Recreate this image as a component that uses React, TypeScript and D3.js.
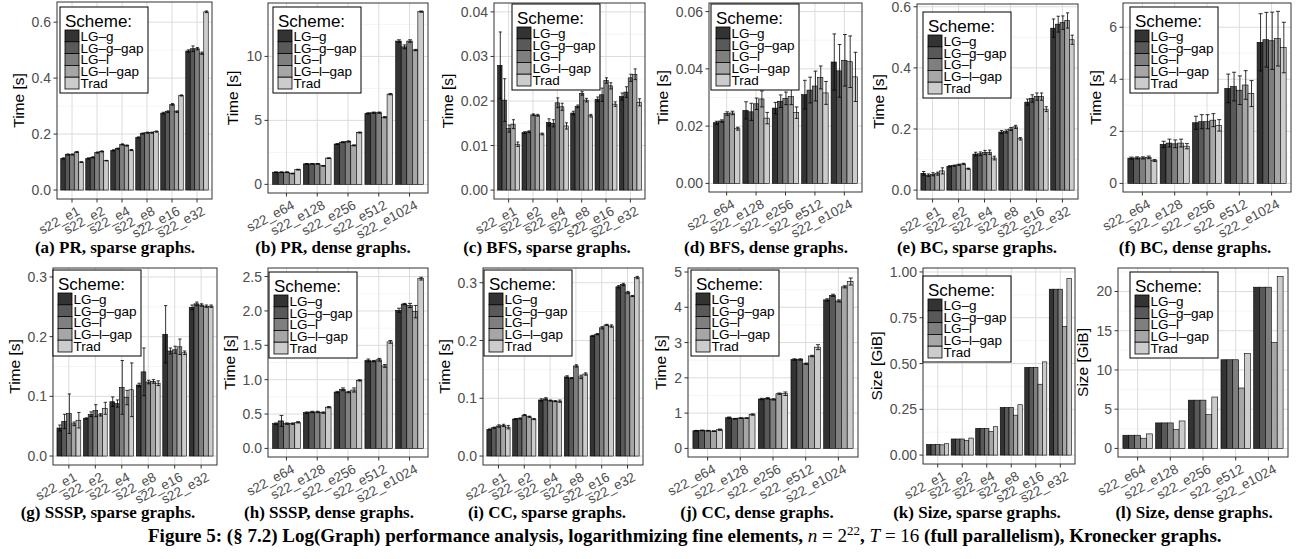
import React from "react";
import * as d3 from "d3";

const schemes = ["LG–g", "LG–g–gap", "LG–l", "LG–l–gap", "Trad"];
const schemeFill = ["#333333", "#595959", "#7f7f7f", "#a6a6a6", "#cccccc"];

const sparseGraphs = ["s22_e1", "s22_e2", "s22_e4", "s22_e8", "s22_e16", "s22_e32"];
const denseGraphs = ["s22_e64", "s22_e128", "s22_e256", "s22_e512", "s22_e1024"];

// rows = graphs, columns = schemes
const prSparse = [
  [0.113, 0.127, 0.127, 0.136, 0.1],
  [0.113, 0.117, 0.134, 0.138, 0.105],
  [0.142, 0.148, 0.163, 0.159, 0.143],
  [0.188, 0.202, 0.205, 0.205, 0.209],
  [0.275, 0.28, 0.306, 0.28, 0.338],
  [0.497, 0.505, 0.505, 0.489, 0.637],
];
const prSparseErr = [
  [0.002, 0.002, 0.002, 0.002, 0.001],
  [0.002, 0.002, 0.002, 0.002, 0.001],
  [0.002, 0.002, 0.002, 0.002, 0.002],
  [0.002, 0.002, 0.002, 0.002, 0.002],
  [0.003, 0.003, 0.003, 0.003, 0.002],
  [0.004, 0.01, 0.004, 0.004, 0.003],
];
const prDense = [
  [0.95, 0.95, 0.95, 0.85, 1.15],
  [1.6, 1.6, 1.6, 1.45, 2.05],
  [3.15, 3.3, 3.35, 3.05, 4.05],
  [5.55, 5.6, 5.6, 5.25, 7.05],
  [11.2, 10.75, 11.2, 10.5, 13.5],
];
const prDenseErr = [
  [0.03, 0.03, 0.03, 0.03, 0.03],
  [0.03, 0.03, 0.03, 0.03, 0.03],
  [0.04, 0.04, 0.05, 0.04, 0.04],
  [0.05, 0.05, 0.05, 0.05, 0.05],
  [0.1, 0.15, 0.1, 0.05, 0.05],
];
const bfsSparse = [
  [0.028, 0.0202, 0.0138, 0.0148, 0.0103],
  [0.0129, 0.0131, 0.0169, 0.0168, 0.0126],
  [0.0152, 0.015, 0.0196, 0.0187, 0.0144],
  [0.0173, 0.0188, 0.0217, 0.0202, 0.0167],
  [0.0204, 0.0214, 0.0246, 0.0234, 0.0193],
  [0.021, 0.022, 0.0252, 0.026, 0.0197],
];
const bfsSparseErr = [
  [0.0075, 0.0048, 0.0008, 0.001, 0.0005],
  [0.0002, 0.0002, 0.0002, 0.0002, 0.0002],
  [0.0008, 0.0008, 0.0011, 0.0008, 0.0007],
  [0.0004, 0.0003, 0.0004, 0.0004, 0.0003],
  [0.0005, 0.0015, 0.0006, 0.0007, 0.0005],
  [0.0008, 0.0012, 0.0008, 0.0012, 0.0008],
];
const bfsDense = [
  [0.0212, 0.0218, 0.0244, 0.0246, 0.0191],
  [0.0255, 0.025, 0.0278, 0.0295, 0.0228],
  [0.0263, 0.0287, 0.0297, 0.0303, 0.0247],
  [0.031, 0.0326, 0.034, 0.037, 0.0316],
  [0.0424, 0.0393, 0.043, 0.0425, 0.0372],
];
const bfsDenseErr = [
  [0.0005, 0.0004, 0.0006, 0.0006, 0.0005],
  [0.003, 0.003, 0.002, 0.0028, 0.002],
  [0.002, 0.0022, 0.0022, 0.0028, 0.002],
  [0.005, 0.0045, 0.0052, 0.004, 0.004],
  [0.0098, 0.0092, 0.009, 0.009, 0.0086],
];
const bcSparse = [
  [0.055, 0.049, 0.052, 0.054, 0.063],
  [0.078, 0.08, 0.083, 0.086, 0.07],
  [0.118, 0.119, 0.123, 0.124, 0.105],
  [0.19, 0.192, 0.2, 0.207, 0.168],
  [0.288, 0.3, 0.306, 0.306, 0.265],
  [0.53, 0.543, 0.548, 0.555, 0.492],
];
const bcSparseErr = [
  [0.006, 0.004, 0.005, 0.005, 0.01],
  [0.002, 0.002, 0.002, 0.002, 0.002],
  [0.006, 0.006, 0.007, 0.007, 0.006],
  [0.005, 0.005, 0.005, 0.005, 0.004],
  [0.01, 0.012, 0.012, 0.012, 0.008],
  [0.03, 0.026, 0.022, 0.025, 0.015],
];
const bcDense = [
  [0.97, 0.98, 0.98, 1.0, 0.88],
  [1.5, 1.55, 1.52, 1.55, 1.43],
  [2.33, 2.37, 2.37, 2.43, 2.23],
  [3.65, 3.72, 3.58, 3.78, 3.45],
  [5.42, 5.52, 5.48, 5.56, 5.22],
];
const bcDenseErr = [
  [0.04, 0.04, 0.04, 0.05, 0.04],
  [0.12, 0.15, 0.15, 0.15, 0.1],
  [0.25, 0.27, 0.27, 0.25, 0.22],
  [0.55, 0.55, 0.55, 0.55, 0.5],
  [1.1, 1.05, 1.1, 1.05, 0.97],
];
const ssspSparse = [
  [0.047, 0.058, 0.071, 0.054, 0.06],
  [0.063, 0.07, 0.076, 0.069, 0.08],
  [0.091, 0.088, 0.115, 0.098, 0.111],
  [0.119, 0.141, 0.124, 0.125, 0.122],
  [0.204, 0.176, 0.178, 0.183, 0.173],
  [0.249, 0.255, 0.253, 0.251, 0.251],
];
const ssspSparseErr = [
  [0.005, 0.012, 0.033, 0.003, 0.013],
  [0.001, 0.004, 0.01, 0.002, 0.01],
  [0.008, 0.006, 0.045, 0.012, 0.045],
  [0.003, 0.04, 0.003, 0.003, 0.004],
  [0.048, 0.005, 0.006, 0.013, 0.003],
  [0.004, 0.003, 0.002, 0.002, 0.002],
];
const ssspDense = [
  [0.36, 0.4, 0.36, 0.36, 0.38],
  [0.52, 0.53, 0.53, 0.52, 0.6],
  [0.82, 0.86, 0.82, 0.85, 0.99],
  [1.28, 1.27, 1.29, 1.2, 1.55],
  [2.01, 2.1, 2.08, 1.99, 2.47],
];
const ssspDenseErr = [
  [0.01, 0.08, 0.01, 0.01, 0.01],
  [0.01, 0.01, 0.01, 0.01, 0.01],
  [0.01, 0.02, 0.01, 0.03, 0.01],
  [0.02, 0.01, 0.02, 0.02, 0.02],
  [0.03, 0.01, 0.03, 0.09, 0.02],
];
const ccSparse = [
  [0.046, 0.049, 0.052, 0.053, 0.05],
  [0.064, 0.065, 0.071, 0.068, 0.064],
  [0.097, 0.099, 0.096, 0.095, 0.095],
  [0.137, 0.135, 0.156, 0.137, 0.142],
  [0.208, 0.211, 0.222, 0.227, 0.225],
  [0.293, 0.297, 0.283, 0.277, 0.309],
];
const ccSparseErr = [
  [0.001, 0.001, 0.002, 0.002, 0.003],
  [0.001, 0.001, 0.001, 0.001, 0.001],
  [0.002, 0.002, 0.001, 0.001, 0.002],
  [0.002, 0.001, 0.002, 0.003, 0.002],
  [0.001, 0.001, 0.002, 0.001, 0.002],
  [0.002, 0.002, 0.002, 0.001, 0.002],
];
const ccDense = [
  [0.5, 0.51, 0.5, 0.49, 0.53],
  [0.87, 0.84, 0.86, 0.86, 0.96],
  [1.4, 1.42, 1.39, 1.55, 1.55],
  [2.52, 2.52, 2.4, 2.62, 2.87],
  [4.21, 4.34, 4.18, 4.58, 4.73],
];
const ccDenseErr = [
  [0.01, 0.01, 0.01, 0.01, 0.02],
  [0.02, 0.01, 0.01, 0.01, 0.02],
  [0.02, 0.02, 0.02, 0.02, 0.05],
  [0.02, 0.02, 0.02, 0.02, 0.07],
  [0.03, 0.03, 0.03, 0.03, 0.1],
];
const sizeSparse = [
  [0.058, 0.058, 0.058, 0.056, 0.062],
  [0.088, 0.088, 0.088, 0.08, 0.093],
  [0.146, 0.146, 0.146, 0.128, 0.155],
  [0.26, 0.26, 0.26, 0.218, 0.275],
  [0.479, 0.479, 0.479, 0.387, 0.509],
  [0.906, 0.906, 0.906, 0.703, 0.965],
];
const sizeDense = [
  [1.68, 1.68, 1.68, 1.3, 1.85],
  [3.25, 3.25, 3.25, 2.4, 3.5],
  [6.15, 6.15, 6.15, 4.3, 6.55],
  [11.3, 11.3, 11.3, 7.7, 12.1],
  [20.55, 20.55, 20.55, 13.5, 21.9],
];

const sans = "'Liberation Sans', Arial, Helvetica, sans-serif";
const serif = "'Liberation Serif', 'Times New Roman', serif";

type PanelCfg = {
  id: string;
  caption: string;
  cats: string[];
  values: number[][];
  err?: number[][];
  yMax: number;
  ticks: number[];
  fmt: string;
  yTitle: string;
  frame: [number, number, number, number];
  legend: [number, number];
  capX: number;
  capY: number;
};

const panels: PanelCfg[] = [
  { id: "a", caption: "(a) PR, sparse graphs.", cats: sparseGraphs, values: prSparse, err: prSparseErr, yMax: 0.64, ticks: [0, 0.2, 0.4, 0.6], fmt: ".1f", yTitle: "Time [s]", frame: [57, 212, 2, 199], legend: [60, 7], capX: 115, capY: 253 },
  { id: "b", caption: "(b) PR, dense graphs.", cats: denseGraphs, values: prDense, err: prDenseErr, yMax: 13.5, ticks: [0, 5, 10], fmt: "d", yTitle: "Time [s]", frame: [268, 428, 3, 193], legend: [273, 7], capX: 333, capY: 253 },
  { id: "c", caption: "(c) BFS, sparse graphs.", cats: sparseGraphs, values: bfsSparse, err: bfsSparseErr, yMax: 0.04, ticks: [0, 0.01, 0.02, 0.03, 0.04], fmt: ".2f", yTitle: "Time [s]", frame: [494, 645, 3, 199], legend: [512, 4], capX: 547, capY: 253 },
  { id: "d", caption: "(d) BFS, dense graphs.", cats: denseGraphs, values: bfsDense, err: bfsDenseErr, yMax: 0.06, ticks: [0, 0.02, 0.04, 0.06], fmt: ".2f", yTitle: "Time [s]", frame: [709, 862, 3, 192], legend: [711, 4], capX: 766, capY: 253 },
  { id: "e", caption: "(e) BC, sparse graphs.", cats: sparseGraphs, values: bcSparse, err: bcSparseErr, yMax: 0.58, ticks: [0, 0.2, 0.4, 0.6], fmt: ".1f", yTitle: "Time [s]", frame: [917, 1078, 4, 199], legend: [923, 12], capX: 977, capY: 253 },
  { id: "f", caption: "(f) BC, dense graphs.", cats: denseGraphs, values: bcDense, err: bcDenseErr, yMax: 6.6, ticks: [0, 2, 4, 6], fmt: "d", yTitle: "Time [s]", frame: [1123, 1291, 3, 192], legend: [1130, 7], capX: 1195, capY: 253 },
  { id: "g", caption: "(g) SSSP, sparse graphs.", cats: sparseGraphs, values: ssspSparse, err: ssspSparseErr, yMax: 0.3, ticks: [0, 0.1, 0.2, 0.3], fmt: ".1f", yTitle: "Time [s]", frame: [53, 217, 268, 465], legend: [53, 270], capX: 108, capY: 518 },
  { id: "h", caption: "(h) SSSP, dense graphs.", cats: denseGraphs, values: ssspDense, err: ssspDenseErr, yMax: 2.5, ticks: [0, 0.5, 1, 1.5, 2, 2.5], fmt: ".1f", yTitle: "Time [s]", frame: [268, 428, 268, 457], legend: [269, 272], capX: 329, capY: 518 },
  { id: "i", caption: "(i) CC, sparse graphs.", cats: sparseGraphs, values: ccSparse, err: ccSparseErr, yMax: 0.31, ticks: [0, 0.1, 0.2, 0.3], fmt: ".1f", yTitle: "Time [s]", frame: [483, 643, 268, 465], legend: [484, 270], capX: 547, capY: 518 },
  { id: "j", caption: "(j) CC, dense graphs.", cats: denseGraphs, values: ccDense, err: ccDenseErr, yMax: 4.87, ticks: [0, 1, 2, 3, 4, 5], fmt: "d", yTitle: "Time [s]", frame: [688, 858, 268, 457], legend: [691, 270], capX: 757, capY: 518 },
  { id: "k", caption: "(k) Size, sparse graphs.", cats: sparseGraphs, values: sizeSparse, yMax: 0.973, ticks: [0, 0.25, 0.5, 0.75, 1], fmt: ".2f", yTitle: "Size [GiB]", frame: [923, 1075, 268, 464], legend: [923, 276], capX: 977, capY: 518 },
  { id: "l", caption: "(l) Size, dense graphs.", cats: denseGraphs, values: sizeDense, yMax: 21.9, ticks: [0, 5, 10, 15, 20], fmt: "d", yTitle: "Size [GiB]", frame: [1118, 1288, 268, 457], legend: [1130, 272], capX: 1194, capY: 518 },
];

const tickFont = 14;
const groupWidth = 0.9;

function labelWidth(s: string, fs: number) {
  let w = 0;
  for (const ch of s) w += ch === "." ? 0.278 : 0.556;
  return w * fs;
}

function Legend({ x, y }: { x: number; y: number }) {
  const keyH = 11.8;
  return (
    <g transform={`translate(${x},${y})`}>
      <rect x={0} y={0} width={88} height={86} fill="#fff" stroke="#000" strokeWidth={1} />
      <text x={5} y={20} fontSize={17} fontFamily={sans} fill="#000">Scheme:</text>
      {schemes.map((s, i) => (
        <g key={s}>
          <rect x={5} y={23 + i * keyH} width={14} height={keyH} fill={schemeFill[i]} stroke="#000" strokeWidth={0.8} />
          <text x={20.5} y={23 + i * keyH + keyH / 2 + 4.8} fontSize={13.5} fontFamily={sans} fill="#000">{s}</text>
        </g>
      ))}
    </g>
  );
}

function Panel({ p }: { p: PanelCfg }) {
  const [x0, x1, y0, y1] = p.frame;
  const y = d3.scaleLinear().domain([-0.05 * p.yMax, 1.05 * p.yMax]).range([y1, y0]);
  const x = d3.scalePoint<string>().domain(p.cats).range([x0, x1]).padding(0.6);
  const gw = x.step() * groupWidth;
  const inner = d3.scaleBand<string>().domain(schemes).range([-gw / 2, gw / 2]);
  const bw = inner.bandwidth();
  const fmt = d3.format(p.fmt);
  const tStep = p.ticks[1] - p.ticks[0];
  const [dlo, dhi] = y.domain();
  const minors = d3.range(p.ticks[0] - tStep / 2, dhi, tStep).filter((v) => v > dlo && v < dhi);
  const maxLab = d3.max(p.ticks, (t) => labelWidth(fmt(t), tickFont)) || 0;
  const titleX = x0 - 8 - maxLab - 6;
  const midY = (y0 + y1) / 2;

  return (
    <g>
      <rect x={x0} y={y0} width={x1 - x0} height={y1 - y0} fill="#fff" />
      {minors.map((v) => (
        <line key={"m" + v} x1={x0} x2={x1} y1={y(v)} y2={y(v)} stroke="#f0f0f0" strokeWidth={0.7} />
      ))}
      {p.ticks.map((v) => (
        <line key={"t" + v} x1={x0} x2={x1} y1={y(v)} y2={y(v)} stroke="#dcdcdc" strokeWidth={1} />
      ))}
      {p.cats.map((c) => (
        <line key={"v" + c} x1={x(c)!} x2={x(c)!} y1={y0} y2={y1} stroke="#dcdcdc" strokeWidth={1} />
      ))}
      {p.cats.map((c, gi) =>
        schemes.map((s, si) => {
          const v = p.values[gi][si];
          const bx = x(c)! + inner(s)!;
          return (
            <rect key={c + s} x={bx} y={y(v)} width={bw} height={y(0) - y(v)} fill={schemeFill[si]} stroke="#000" strokeWidth={0.6} />
          );
        })
      )}
      {p.err &&
        p.cats.map((c, gi) =>
          schemes.map((s, si) => {
            const v = p.values[gi][si];
            const e = p.err![gi][si];
            const cx = x(c)! + inner(s)! + bw * 0.6;
            const cw = bw * 0.35;
            return (
              <g key={"e" + c + s} stroke="#000" strokeWidth={0.8}>
                <line x1={cx} x2={cx} y1={y(v - e)} y2={y(v + e)} />
                <line x1={cx - cw} x2={cx + cw} y1={y(v + e)} y2={y(v + e)} />
                <line x1={cx - cw} x2={cx + cw} y1={y(v - e)} y2={y(v - e)} />
              </g>
            );
          })
        )}
      <rect x={x0} y={y0} width={x1 - x0} height={y1 - y0} fill="none" stroke="#333" strokeWidth={1} />
      {p.ticks.map((v) => (
        <g key={"yl" + v}>
          <line x1={x0 - 3.5} x2={x0} y1={y(v)} y2={y(v)} stroke="#333" strokeWidth={1} />
          <text x={x0 - 6} y={y(v) + 5} textAnchor="end" fontSize={tickFont} fontFamily={sans} fill="#4d4d4d">{fmt(v)}</text>
        </g>
      ))}
      {p.cats.map((c) => (
        <g key={"xl" + c}>
          <line x1={x(c)!} x2={x(c)!} y1={y1} y2={y1 + 3.5} stroke="#333" strokeWidth={1} />
          <text transform={`translate(${x(c)! + 9},${y1 + 15}) rotate(-28)`} textAnchor="end" fontSize={13.5} fontFamily={sans} fill="#4d4d4d">{c}</text>
        </g>
      ))}
      <text transform={`translate(${titleX},${midY}) rotate(-90)`} textAnchor="middle" fontSize={15.5} fontFamily={sans} fill="#000">{p.yTitle}</text>
      <Legend x={p.legend[0]} y={p.legend[1]} />
      <text x={p.capX} y={p.capY} textAnchor="middle" fontSize={17} fontWeight="bold" fontFamily={serif} fill="#000">{p.caption}</text>
    </g>
  );
}

export default function App() {
  return (
    <svg width={1296} height={559} style={{ position: "absolute", left: 0, top: 0, background: "#fff" }}>
      <rect width={1296} height={559} fill="#fff" />
      {panels.map((p) => (
        <Panel key={p.id} p={p} />
      ))}
      <text x={148} y={542} fontSize={19} fontWeight="bold" fontFamily={serif} fill="#000">
        Figure 5: (§ 7.2) Log(Graph) performance analysis, logarithmizing fine elements,{" "}
        <tspan fontStyle="italic" fontWeight="normal">n</tspan>
        <tspan fontWeight="normal"> = 2</tspan>
        <tspan fontWeight="normal" fontSize={13} dy={-7}>22</tspan>
        <tspan dy={7}>, </tspan>
        <tspan fontStyle="italic" fontWeight="normal">T</tspan>
        <tspan fontWeight="normal"> = 16 </tspan>
        (full parallelism), Kronecker graphs.
      </text>
    </svg>
  );
}
